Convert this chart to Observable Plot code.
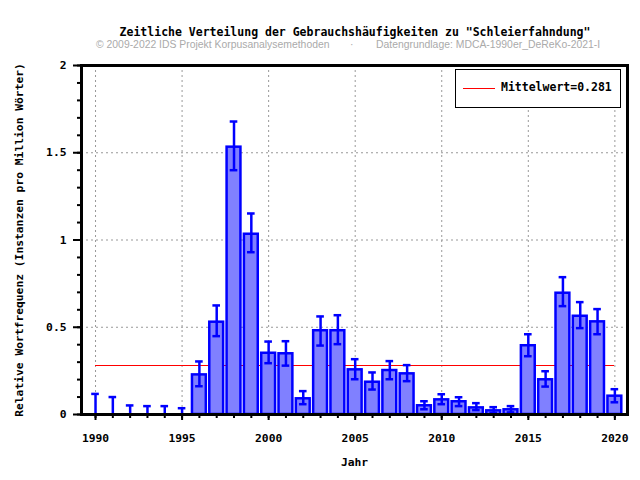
<!DOCTYPE html>
<html>
<head>
<meta charset="utf-8">
<script src="https://cdn.jsdelivr.net/npm/d3@7"></script>
<script src="https://cdn.jsdelivr.net/npm/@observablehq/plot@0.6"></script>
<style>
  body { margin: 0; background: #fff; }
  #wrap { position: relative; width: 640px; height: 480px; overflow: hidden; }
  #chart { position: absolute; left: 0; top: 0; }
  .mono { font-family: "DejaVu Sans Mono", monospace; font-weight: bold; }
  #title { position: absolute; left: 0; width: 710px; top: 25px; text-align: center; font-size: 11.5px; color: #000; }
  .sub { position: absolute; top: 39px; font-family: "Liberation Sans", Arial, sans-serif; font-size: 10.4px; color: #aaa; white-space: pre; }
  #legend { position: absolute; left: 455px; top: 69px; width: 164px; height: 37px; border: 1px solid #000; background: #fff; }
  #legend .line { position: absolute; left: 7px; top: 18px; width: 32px; height: 1px; background: #f00; }
  #legend .txt { position: absolute; left: 45px; top: 10px; font-size: 11.5px; }
</style>
</head>
<body>
<div id="wrap">
  <div id="chart"></div>
  <div id="title" class="mono">Zeitliche Verteilung der Gebrauchshäufigkeiten zu "Schleierfahndung"</div>
  <div class="sub" style="left:96px">© 2009-2022 IDS Projekt Korpusanalysemethoden</div>
  <div class="sub" style="left:350px">·</div>
  <div class="sub" style="left:376px">Datengrundlage: MDCA-1990er_DeReKo-2021-I</div>
  <div id="legend" class="mono"><div class="line"></div><div class="txt">Mittelwert=0.281</div></div>
</div>
<script>
const years = d3.range(1990, 2021);
const values = [0, 0, 0, 0, 0, 0, 0.227, 0.529, 1.532, 1.033, 0.351, 0.348, 0.090, 0.480, 0.480, 0.256, 0.185, 0.252, 0.233, 0.050, 0.084, 0.073, 0.038, 0.021, 0.027, 0.394, 0.199, 0.695, 0.563, 0.531, 0.105];
const errHigh = [0.118, 0.100, 0.052, 0.048, 0.048, 0.036, 0.304, 0.625, 1.679, 1.152, 0.418, 0.420, 0.134, 0.562, 0.569, 0.317, 0.241, 0.306, 0.283, 0.076, 0.116, 0.099, 0.065, 0.042, 0.048, 0.460, 0.248, 0.787, 0.644, 0.604, 0.145];
const errLow = [0, 0, 0, 0, 0, 0, 0.162, 0.449, 1.400, 0.930, 0.294, 0.280, 0.059, 0.395, 0.403, 0.202, 0.143, 0.202, 0.191, 0.030, 0.059, 0.048, 0.025, 0.010, 0.012, 0.334, 0.160, 0.621, 0.495, 0.460, 0.070];
const mean = 0.281;
const majorX = [1990, 1995, 2000, 2005, 2010, 2015, 2020];
const majorY = [0, 0.5, 1, 1.5, 2];
const minorY = d3.range(0, 21).map(i => i / 10);

const data = years.map((y, i) => ({year: y, value: values[i], hi: errHigh[i], lo: errLow[i]}));
const barHalf = 0.4, capHalf = 0.22;
const blue = "#0000ff";
const font = "DejaVu Sans Mono, monospace";

const chart = Plot.plot({
  width: 640, height: 480,
  marginLeft: 81, marginRight: 13, marginTop: 65, marginBottom: 66,
  style: {fontFamily: font, fontSize: "11.3px", fontWeight: "bold", color: "#000", background: "transparent"},
  x: {domain: [1989.19, 2020.73]},
  y: {domain: [0, 2]},
  marks: [
    Plot.gridY([0.5, 1, 1.5], {stroke: "#999", strokeOpacity: 1, strokeDasharray: "2,3"}),
    Plot.gridX(majorX, {stroke: "#999", strokeOpacity: 1, strokeDasharray: "2,3"}),
    Plot.ruleY([mean], {x1: 1990, x2: 2020, stroke: "#ff0000", strokeWidth: 1, shapeRendering: "crispEdges"}),
    Plot.rectY(data.filter(d => d.value > 0), {x1: d => d.year - barHalf, x2: d => d.year + barHalf, y1: 0, y2: "value", fill: "#8080ff", stroke: blue, strokeWidth: 2.5}),
    Plot.ruleX(data, {x: "year", y1: "lo", y2: "hi", stroke: blue, strokeWidth: 2.5}),
    Plot.ruleY(data, {y: "hi", x1: d => d.year - capHalf, x2: d => d.year + capHalf, stroke: blue, strokeWidth: 2.5}),
    Plot.ruleY(data, {y: "lo", x1: d => d.year - capHalf, x2: d => d.year + capHalf, stroke: blue, strokeWidth: 2.5}),
    Plot.axisY(minorY, {tickSize: 4, tickFormat: null, text: null, label: null, strokeWidth: 2}),
    Plot.axisY(majorY, {tickSize: 8, tickPadding: 7, tickFormat: d => String(d), strokeWidth: 2,
      label: "Relative Wortfrequenz (Instanzen pro Million Wörter)", labelAnchor: "center", labelArrow: "none", labelOffset: 67}),
    Plot.axisX(years, {tickSize: 4, text: null, label: null, strokeWidth: 2}),
    Plot.axisX(majorX, {tickSize: 6, tickPadding: 13, tickFormat: d => String(d), strokeWidth: 2,
      label: "Jahr", labelAnchor: "center", labelArrow: "none", labelOffset: 51}),
    Plot.frame({stroke: "#000", strokeWidth: 3})
  ]
});
document.getElementById("chart").appendChild(chart);
</script>
</body>
</html>
